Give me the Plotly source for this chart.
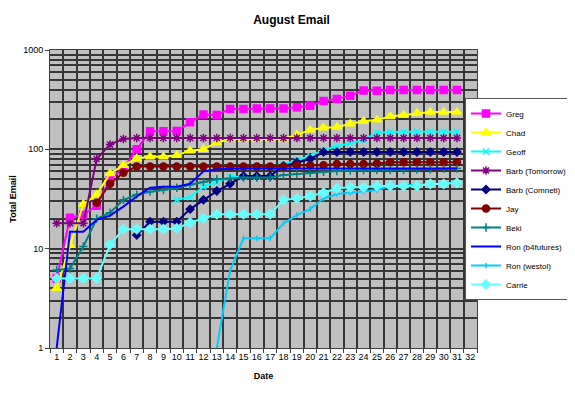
import plotly.graph_objects as go

days = list(range(1, 32))
N = None

greg = [5, 20.5, 22, 27, 50, 64, 100, 152, 152, 153, 187, 224, 222, 255, 255, 258, 258, 258,
        266, 275, 307, 322, 347, 390, 388, 396, 396, 396, 396, 396, 396]
chad = [4, 10.8, 28, 35, 57, 69, 81, 84, 84, 87, 97, 100, 117, 127, 127, 127, 127, 127,
        140, 157, 165, 167, 181, 192, 198, 214, 222, 231, 237, 237, 237]
geoff = [N] * 9 + [31, 33, 42, 47, 53, 53, 53, 53, 70, 78, 86, 98, 108, 115, 124, 148,
                   150, 150, 150, 150, 150, 150]
barb_tomorrow = [18, 18, 18, 80, 112, 127] + [130] * 25
barb_comneti = [N] * 6 + [13.7, 18.7, 18.7, 18.7, 25, 31, 38, 45, 54, 54, 54, 68, 74, 80, 94] + [94] * 10
jay = [N] * 3 + [29, 45, 58] + [67] * 12 + [69] * 3 + [71, 71, 71, 72] + [74] * 6
beki = [6.1, 6.3, 10.5, 20, 23, 31, 35, 37.5, 39, 41, 44, 47, 50, 51, 52, 52, 52, 55, 56.5, 58,
        59.5, 60.5, 61, 61.5, 62, 62, 62, 62.5, 63, 63.5, 64]
ron_b4futures = [1, 14.8, 14.8, 19.5, 21.5, 26.5, 33.5, 41, 42, 42, 45, 60, 63] + [64] * 18
ron_westol = [N] * 12 + [1, 6, 12.7, 12.7, 12.7, 18, 21.8, 25, 32, 35.5, 36.6, 37.5, 39,
                         42.8, 43.5, 44, 44.5, 45, 46]
carrie = [5, 5, 5, 5, 11, 15.7, 15.7, 15.7, 15.7, 16, 18.3, 20.2, 22.2, 22.2, 22.2, 22.2, 22.2,
          31, 32, 33.8, 36.6, 40.5, 41.5, 41.5, 42.8, 42.8, 42.8, 42.8, 44.8, 44.8, 46]

x_ticks = list(range(1, 33))
y_ticks = [1, 10, 100, 1000]

series = [
    ("Greg", greg, "#FF00FF", "square", 7),
    ("Chad", chad, "#FFFF00", "triangle-up", 8),
    ("Geoff", geoff, "#00FFFF", "x-thin-open", 6),
    ("Barb (Tomorrow)", barb_tomorrow, "#800080", "asterisk-open", 7),
    ("Barb (Comneti)", barb_comneti, "#000080", "diamond", 6),
    ("Jay", jay, "#800000", "circle", 7),
    ("Beki", beki, "#008080", "cross-thin-open", 6),
    ("Ron (b4futures)", ron_b4futures, "#0000FF", None, 0),
    ("Ron (westol)", ron_westol, "#00CCFF", "line-ns-open", 4),
    ("Carrie", carrie, "#66FFFF", "diamond", 7),
]

fig = go.Figure()
for name, vals, color, sym, size in series:
    if sym is None:
        fig.add_trace(go.Scatter(x=days, y=vals, name=name, mode="lines",
                                 line=dict(color=color, width=2)))
    else:
        fig.add_trace(go.Scatter(x=days, y=vals, name=name, mode="lines+markers",
                                 line=dict(color=color, width=2),
                                 marker=dict(symbol=sym, size=size, color=color,
                                             line=dict(color=color, width=1.5))))

minor_y = [m * 10 ** k for k in range(3) for m in range(2, 10)]
grid_c = "#363636"

fig.update_layout(
    width=567, height=385,
    margin=dict(l=42, r=98, t=42, b=45, autoexpand=False),
    paper_bgcolor="white",
    plot_bgcolor="#C0C0C0",
    font=dict(family="Arial, Liberation Sans, sans-serif", size=9, color="black"),
    title=dict(text="<b>August Email</b>", x=0.5, xanchor="center", y=0.969, yanchor="middle",
               yref="container", font=dict(size=12)),
    showlegend=True,
    legend=dict(x=1.2225, y=0.5, xanchor="right", yanchor="middle",
                bgcolor="white", bordercolor="#555555", borderwidth=1,
                font=dict(size=8), itemwidth=30, tracegroupgap=0),
    xaxis=dict(range=[0.5, 32.5], tickvals=x_ticks, ticktext=[str(v) for v in x_ticks],
               showgrid=False, ticks="", zeroline=False, automargin=False,
               showline=True, linecolor="#404040", linewidth=1, mirror=True,
               minor=dict(tick0=0.5, dtick=1, showgrid=True, gridcolor=grid_c, gridwidth=1.5,
                          ticks="outside", ticklen=4, tickcolor="#404040"),
               title=dict(text="<b>Date</b>", standoff=11, font=dict(size=9))),
    yaxis=dict(type="log", range=[0, 3], tickvals=y_ticks, ticktext=[str(v) for v in y_ticks],
               showgrid=True, gridcolor=grid_c, gridwidth=1.5, automargin=False,
               ticks="outside", ticklen=4, tickcolor="#404040",
               showline=True, linecolor="#404040", linewidth=1, mirror=True,
               minor=dict(tickvals=minor_y, showgrid=True, gridcolor=grid_c, gridwidth=1.5),
               title=dict(text="<b>Total Email</b>", standoff=6, font=dict(size=9))),
)

fig.write_html("out.html")
